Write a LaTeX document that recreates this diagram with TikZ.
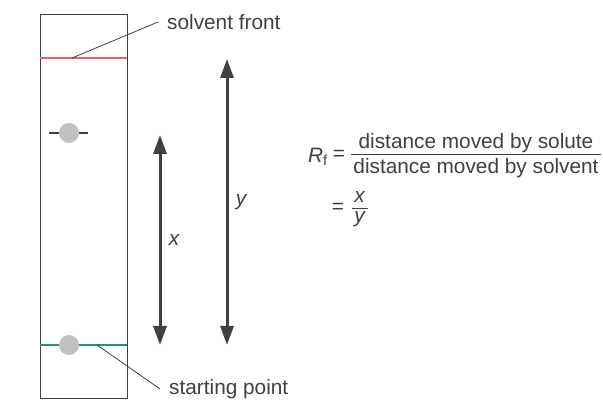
\documentclass[tikz,border=0pt]{standalone}
\usepackage{fontspec}
\setmainfont{Liberation Sans}
\usetikzlibrary{arrows.meta,positioning}
\definecolor{frontred}{RGB}{232,98,104}
\definecolor{startgreen}{RGB}{38,150,100}
\definecolor{spotgray}{RGB}{192,192,194}
\definecolor{inkgray}{RGB}{64,64,64}

\begin{document}
\begin{tikzpicture}[
    x=1pt,
    y=1pt,
    every node/.style={font=\fontsize{20.8}{24}\selectfont,text=inkgray},
    strip/.style={draw=inkgray,line width=0.9pt},
    spot/.style={circle,fill=spotgray,minimum size=20pt,inner sep=0pt},
    leader/.style={draw=inkgray,line width=0.8pt},
    distarrow/.style={draw=inkgray,line width=3pt,
      {Triangle[length=19pt,width=13pt]}-{Triangle[length=19pt,width=13pt]}},
    leadtext/.style={anchor=west,inner xsep=9pt,inner ysep=2pt},
    fracbar/.style={draw=inkgray,line width=0.9pt}
]
  \useasboundingbox (0,0) rectangle (603,401);

  % the plate with its two lines
  \draw[strip] (40,3) rectangle (127,387);
  \draw[frontred,line width=1.2pt] (40,343) -- (127,343);
  \draw[startgreen,line width=1.2pt] (40,56) -- (127,56);

  \draw[inkgray,line width=1.2pt] (49,268) -- (88,268);
  \node[spot] (solute) at (69,268) {};
  \node[spot] (origin) at (69,56) {};

  \coordinate (frontpt) at (72,343);
  \coordinate (startpt) at (97,56);
  \node[leadtext] (front) at (158,379) {solvent front};
  \node[leadtext] (start) at (160,12) {starting point};
  \draw[leader] (frontpt) -- (front.west);
  \draw[leader] (startpt) -- (start.west);

  % distances
  \coordinate (xtop) at (160,266);
  \coordinate (xbot) at (160,56);
  \coordinate (ytop) at (227,342);
  \coordinate (ybot) at (227,56);
  \draw[distarrow] (xbot) -- (xtop) node[midway,right=4pt] (xlab) {\textit{x}};
  \draw[distarrow] (ybot) -- (ytop) node[midway,right=4pt] (ylab) {\textit{y}};

  % the formula
  \node (rf) at (318,244) {\textit{R}\textsubscript{f}};
  \node (eqa) at (339,246) {=};
  \node (num) at (476,258) {distance moved by solute};
  \node[inner xsep=2pt] (den) at (476,233) {distance moved by solvent};
  \draw[fracbar] (den.north west) -- (den.north east);

  \node (eqb) at (338,193) {=};
  \node (xnum) at (360,204) {\textit{x}};
  \node (yden) at (360,182) {\textit{y}};
  \draw[fracbar] (352,193) -- (368,193);
\end{tikzpicture}
\end{document}
